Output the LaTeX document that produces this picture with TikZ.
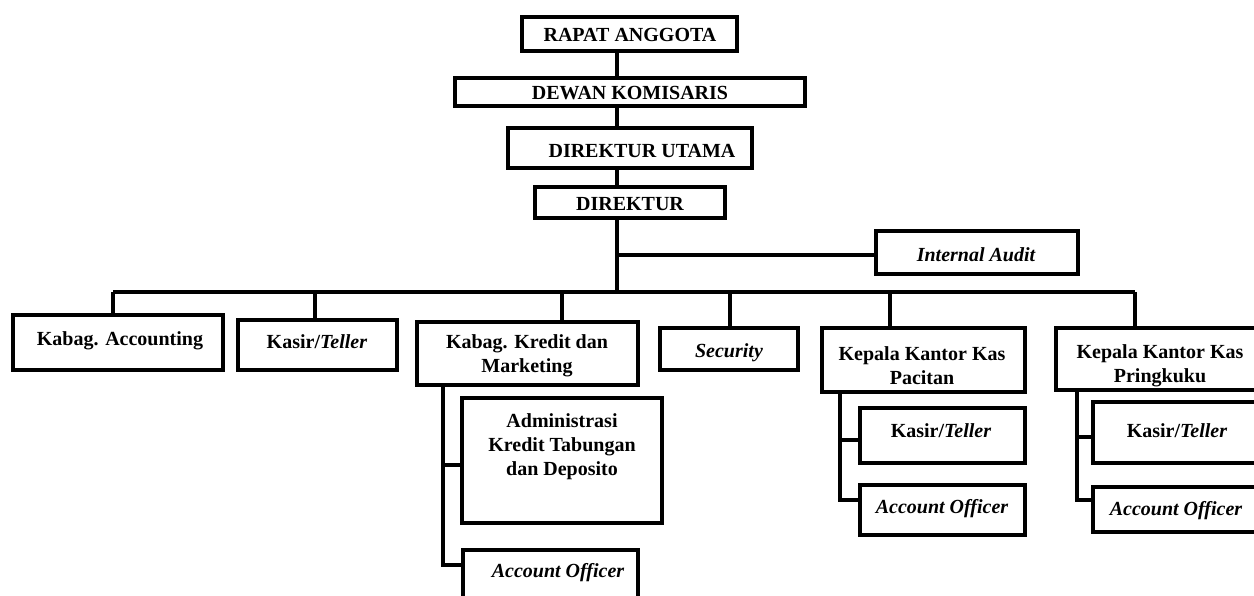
\documentclass[tikz,border=0pt]{standalone}
\usepackage{fontspec}
\setmainfont{Liberation Serif}
\usetikzlibrary{fit}
\begin{document}
\begin{tikzpicture}[x=0.5pt,y=-0.5pt,
  box/.style={draw,line width=1.75pt,inner sep=0pt,fill=white},
  lbl/.style={font=\bfseries\fontsize{10}{12}\selectfont,align=center,inner sep=0pt},
  ln/.style={line width=1.6pt}]
\path[use as bounding box] (0,0) rectangle (1254,595);
\clip (0,0) rectangle (1254,595);
% boxes
\node[box,fit={(522,17) (737,51)}] (ra) {};
\node[box,fit={(455,78) (805,106)}] (dk) {};
\node[box,fit={(508,128) (752,168)}] (du) {};
\node[box,fit={(535,187) (725,218)}] (dir) {};
\node[box,fit={(876,231) (1078,274)}] (ia) {};
\node[box,fit={(13,315) (223,370)}] (ka) {};
\node[box,fit={(238,320) (397,370)}] (ks) {};
\node[box,fit={(417,322) (638,385)}] (kk) {};
\node[box,fit={(660,328) (798,370)}] (sec) {};
\node[box,fit={(822,328) (1025,392)}] (kp) {};
\node[box,fit={(1056,328) (1270,390)}] (kr) {};
\node[box,fit={(462,398) (662,523)}] (adm) {};
\node[box,fit={(463,550) (638,620)}] (ao1) {};
\node[box,fit={(860,408) (1025,463)}] (kt1) {};
\node[box,fit={(860,485) (1025,535)}] (ao2) {};
\node[box,fit={(1093,402) (1270,463)}] (kt2) {};
\node[box,fit={(1093,487) (1270,532)}] (ao3) {};
% texts
\node[lbl] (tra) at (630,35) {RAPAT ANGGOTA};
\node[lbl] (tdk) at (630,93) {DEWAN KOMISARIS};
\node[lbl] (tdu) at (642,151) {DIREKTUR UTAMA};
\node[lbl] (tdir) at (630,204) {DIREKTUR};
\node[lbl] (tia) at (976,255) {\itshape Internal Audit};
\node[lbl] (tka) at (120,341) {Kabag. Accounting};
\node[lbl] (tks) at (317,342) {Kasir/\textit{Teller}};
\node[lbl] (tkk) at (527,356) {Kabag. Kredit dan\\Marketing};
\node[lbl] (tsec) at (729,353) {\itshape Security};
\node[lbl] (tkp) at (922,366) {Kepala Kantor Kas\\Pacitan};
\node[lbl] (tkr) at (1160,366) {Kepala Kantor Kas\\Pringkuku};
\node[lbl] (tadm) at (562,447) {Administrasi\\Kredit Tabungan\\dan Deposito};
\node[lbl] (tao1) at (558,573) {\itshape Account Officer};
\node[lbl] (tkt1) at (941,431) {Kasir/\textit{Teller}};
\node[lbl] (tao2) at (942,509) {\itshape Account Officer};
\node[lbl] (tkt2) at (1177,431) {Kasir/\textit{Teller}};
\node[lbl] (tao3) at (1176,511) {\itshape Account Officer};
% junctions
\coordinate (j0) at (617,292);
\coordinate (jl) at (113,292);
\coordinate (jr) at (1135,292);
\coordinate (jia) at (617,255);
\coordinate (vkk) at (443,565);
\coordinate (vkp) at (840,500);
\coordinate (vkr) at (1077,500);
% connectors
\draw[ln] (ra.south -| j0) -- (dk.north -| j0);
\draw[ln] (dk.south -| j0) -- (du.north -| j0);
\draw[ln] (du.south -| j0) -- (dir.north -| j0);
\draw[ln] (dir.south -| j0) -- (j0);
\draw[ln] (jia) -- (ia.west |- jia);
\draw[ln] (jl) -- (jr);
\draw[ln] (jl) -- (ka.north -| jl);
\draw[ln] (315,292) -- (ks.north -| 315,0);
\draw[ln] (562,292) -- (kk.north -| 562,0);
\draw[ln] (730,292) -- (sec.north -| 730,0);
\draw[ln] (890,292) -- (kp.north -| 890,0);
\draw[ln] (jr) -- (kr.north -| jr);
% sub-branches
\draw[ln] (kk.south -| vkk) -- (vkk) -- (ao1.west |- vkk);
\draw[ln] (443,465) -- (adm.west |- 0,465);
\draw[ln] (kp.south -| vkp) -- (vkp) -- (ao2.west |- vkp);
\draw[ln] (840,440) -- (kt1.west |- 0,440);
\draw[ln] (kr.south -| vkr) -- (vkr) -- (ao3.west |- vkr);
\draw[ln] (1077,437) -- (kt2.west |- 0,437);
\end{tikzpicture}
\end{document}
